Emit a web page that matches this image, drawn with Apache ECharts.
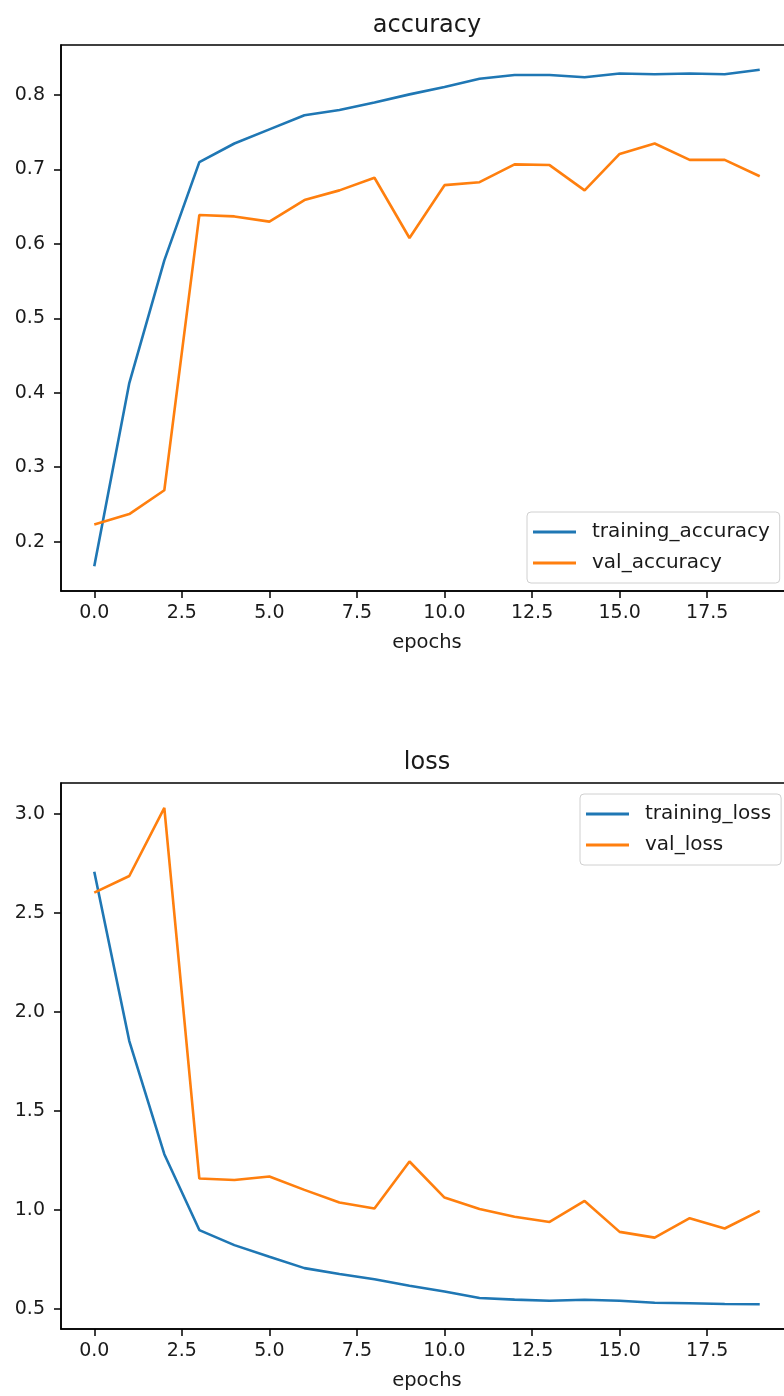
<!DOCTYPE html>
<html>
<head>
<meta charset="utf-8">
<title>accuracy / loss</title>
<script src="https://cdn.jsdelivr.net/npm/echarts@6/dist/echarts.min.js"></script>
<style>
  html, body { margin: 0; padding: 0; background: #fff; overflow: hidden; }
  /* the figure is a little wider than the page, so its right edge runs off-screen */
  #chart { width: 800px; height: 1396px; }
</style>
</head>
<body>
<div id="chart"></div>
<script>
// Per-epoch training history
const epochs = [0, 1, 2, 3, 4, 5, 6, 7, 8, 9, 10, 11, 12, 13, 14, 15, 16, 17, 18, 19];
const trainingAccuracy = [0.167, 0.413, 0.578, 0.710, 0.735, 0.754, 0.773, 0.780, 0.790, 0.801,
                          0.811, 0.822, 0.827, 0.827, 0.824, 0.829, 0.828, 0.829, 0.828, 0.834];
const valAccuracy = [0.223, 0.237, 0.269, 0.639, 0.637, 0.630, 0.659, 0.672, 0.689, 0.608,
                     0.679, 0.683, 0.707, 0.706, 0.672, 0.721, 0.735, 0.713, 0.713, 0.691];
const trainingLoss = [2.707, 1.853, 1.282, 0.899, 0.823, 0.764, 0.707, 0.677, 0.651, 0.618,
                      0.589, 0.556, 0.548, 0.542, 0.547, 0.542, 0.532, 0.530, 0.526, 0.525];
const valLoss = [2.602, 2.686, 3.030, 1.159, 1.152, 1.169, 1.102, 1.038, 1.008, 1.245,
                 1.063, 1.005, 0.966, 0.940, 1.046, 0.890, 0.861, 0.959, 0.907, 0.996];

// Tick positions
const epochTicks = [0, 2.5, 5, 7.5, 10, 12.5, 15, 17.5];
const accuracyTicks = [0.2, 0.3, 0.4, 0.5, 0.6, 0.7, 0.8];
const lossTicks = [0.5, 1.0, 1.5, 2.0, 2.5, 3.0];

const BLUE = '#1f77b4';
const ORANGE = '#ff7f0e';
const FONT = 'DejaVu Sans';
const TEXT = '#1a1a1a';

// axis limits padded by 5% of the data span on each side
function padded(values) {
  const lo = Math.min(...values), hi = Math.max(...values);
  const m = (hi - lo) * 0.05;
  return [lo - m, hi + m];
}
const xLim = padded(epochs);
const accLim = padded(trainingAccuracy.concat(valAccuracy));
const lossLim = padded(trainingLoss.concat(valLoss));

const pairs = ys => ys.map((y, i) => [epochs[i], y]);

function xAxis(gridIndex) {
  return {
    type: 'value', gridIndex, min: xLim[0], max: xLim[1],
    name: 'epochs', nameLocation: 'middle', nameGap: 42,
    nameTextStyle: { fontFamily: FONT, fontSize: 19.5, color: TEXT },
    splitLine: { show: false },
    axisLine: { show: true, onZero: false, lineStyle: { color: '#000', width: 1.5 } },
    axisTick: { show: true, length: 7, customValues: epochTicks, lineStyle: { color: '#000', width: 1.5 } },
    axisLabel: { customValues: epochTicks, margin: 13, fontFamily: FONT, fontSize: 19, color: TEXT,
                 formatter: v => v.toFixed(1) }
  };
}
function yAxis(gridIndex, lim, ticks) {
  return {
    type: 'value', gridIndex, min: lim[0], max: lim[1],
    splitLine: { show: false },
    axisLine: { show: true, onZero: false, lineStyle: { color: '#000', width: 1.5 } },
    axisTick: { show: true, length: 7, customValues: ticks, lineStyle: { color: '#000', width: 1.5 } },
    axisLabel: { customValues: ticks, margin: 16, fontFamily: FONT, fontSize: 19, color: TEXT,
                 formatter: v => v.toFixed(1) }
  };
}
function lineSeries(name, ys, color, idx) {
  return {
    type: 'line', name, data: pairs(ys), xAxisIndex: idx, yAxisIndex: idx,
    symbol: 'none', lineStyle: { color, width: 2.6 }, itemStyle: { color },
    emphasis: { disabled: true }
  };
}
function legend(names, left, top) {
  return {
    data: names, orient: 'vertical', left, top,
    icon: 'rect', itemWidth: 43, itemHeight: 3, itemGap: 9,
    padding: [9, 10, 9, 6],
    backgroundColor: 'rgba(255,255,255,0.8)', borderColor: '#d0d0d0', borderWidth: 1, borderRadius: 4,
    selectedMode: false,
    textStyle: { fontFamily: FONT, fontSize: 20, color: TEXT, lineHeight: 22, padding: [0, 0, 0, 11] }
  };
}
function titleText(text, x, y) {
  return {
    type: 'text', x, y,
    style: { text, fontFamily: FONT, fontSize: 24, fill: TEXT, textAlign: 'center', textVerticalAlign: 'bottom' }
  };
}

const chart = echarts.init(document.getElementById('chart'), null, { renderer: 'canvas' });
chart.setOption({
  animation: false,
  backgroundColor: '#fff',
  graphic: [
    titleText('accuracy', 427, 38),
    titleText('loss', 427, 775)
  ],
  grid: [
    { left: 61, top: 45, width: 732, height: 546, show: true, borderColor: '#000', borderWidth: 1.5 },
    { left: 61, top: 783, width: 732, height: 546, show: true, borderColor: '#000', borderWidth: 1.5 }
  ],
  legend: [
    legend(['training_accuracy', 'val_accuracy'], 527, 512),
    legend(['training_loss', 'val_loss'], 580, 794)
  ],
  xAxis: [xAxis(0), xAxis(1)],
  yAxis: [yAxis(0, accLim, accuracyTicks), yAxis(1, lossLim, lossTicks)],
  series: [
    lineSeries('training_accuracy', trainingAccuracy, BLUE, 0),
    lineSeries('val_accuracy', valAccuracy, ORANGE, 0),
    lineSeries('training_loss', trainingLoss, BLUE, 1),
    lineSeries('val_loss', valLoss, ORANGE, 1)
  ]
});
</script>
</body>
</html>
